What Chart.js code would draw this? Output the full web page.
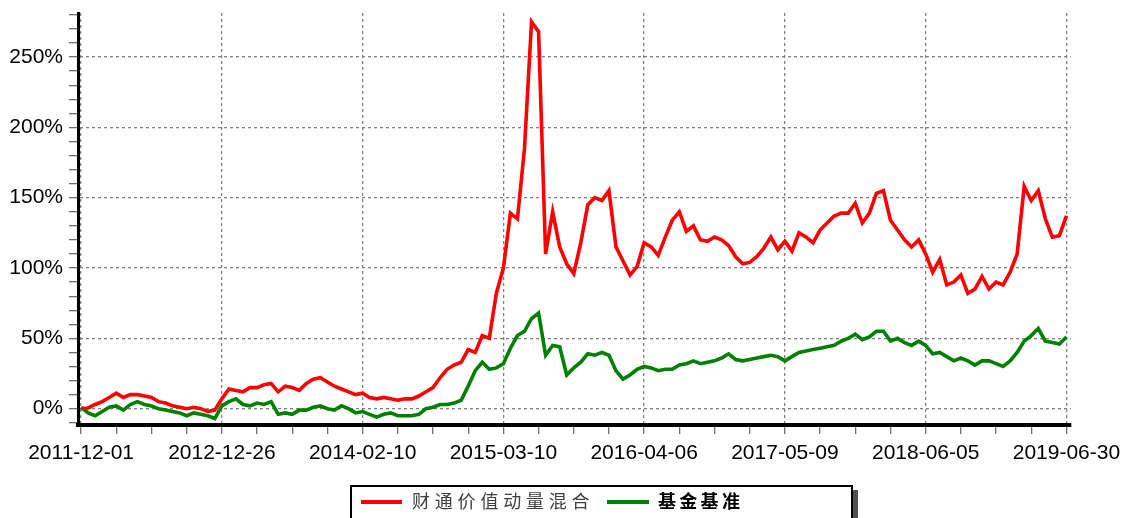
<!DOCTYPE html>
<html>
<head>
    <title>财通价值动量混合</title>
    <script src="https://cdn.jsdelivr.net/npm/chart.js"></script>
    <style>
        body { margin: 0; background-color: #ffffff; }
        #wrap { width: 1122px; height: 518px; }
    </style>
</head>
<body>
    <div id="wrap">
        <canvas id="navChart" width="1122" height="518"></canvas>
    </div>

    <script>
        // tick labels on the date axis (one every 20 samples)
        const dateLabels = ['2011-12-01', '2012-12-26', '2014-02-10', '2015-03-10',
                            '2016-04-06', '2017-05-09', '2018-06-05', '2019-06-30'];
        const seriesNames = ['财通价值动量混合', '基金基准'];

        // cumulative return, %
        const fundValues = [
            0, 0.5, 3, 5, 8, 11, 8, 10, 10, 9, 8, 5, 4, 2, 1, 0, 1, 0, -2, -1, 7,
            14, 13, 12, 15, 15, 17, 18, 12, 16, 15, 13, 18, 21, 22, 19, 16, 14, 12, 10, 11,
            8, 7, 8, 7, 6, 7, 7, 9, 12, 15, 22, 28, 31, 33, 42, 40, 52, 50, 82, 100,
            139, 135, 185, 275, 268, 110, 140, 115, 103, 96, 118, 145, 150, 148, 155, 115, 105, 95, 101, 118,
            115, 109, 122, 134, 140, 126, 130, 120, 119, 122, 120, 116, 108, 103, 104, 108, 114, 122, 113, 119,
            112, 125, 122, 118, 127, 132, 137, 139, 139, 146, 132, 139, 153, 155, 134, 127, 120, 115, 120, 110,
            97, 106, 88, 90, 95, 82, 85, 94, 85, 90, 88, 97, 110, 158, 148, 155, 135, 122, 123, 137
        ];
        const benchValues = [
            1, -3, -5, -2, 1, 2, -1, 3, 5, 3, 2, 0, -1, -2, -3, -5, -3, -4, -5, -7, 2,
            5, 7, 3, 2, 4, 3, 5, -4, -3, -4, -1, -1, 1, 2, 0, -1, 2, 0, -3, -2,
            -4, -6, -4, -3, -5, -5, -5, -4, 0, 1, 3, 3, 4, 6, 16, 27, 33, 28, 29, 32,
            43, 52, 55, 64, 68, 38, 45, 44, 24, 29, 33, 39, 38, 40, 38, 27, 21, 24, 28, 30,
            29, 27, 28, 28, 31, 32, 34, 32, 33, 34, 36, 39, 35, 34, 35, 36, 37, 38, 37, 34,
            37, 40, 41, 42, 43, 44, 45, 48, 50, 53, 49, 51, 55, 55, 48, 50, 47, 45, 48, 45,
            39, 40, 37, 34, 36, 34, 31, 34, 34, 32, 30, 34, 40, 48, 52, 57, 48, 47, 46, 51
        ];

        const perLabel = 20;
        const sampleIdx = fundValues.map((v, i) => i);

        Chart.defaults.font.family = '"Liberation Sans", Arial, sans-serif';
        Chart.defaults.color = '#000';

        // legend drawn as a framed box under the axis
        const boxLegend = {
            id: 'boxLegend',
            afterDraw(chart) {
                const ctx = chart.ctx;
                ctx.save();
                ctx.fillStyle = '#505050';
                ctx.fillRect(853, 490, 5, 30);
                ctx.fillStyle = '#fff';
                ctx.fillRect(351, 486, 501, 40);
                ctx.strokeStyle = '#000';
                ctx.lineWidth = 2;
                ctx.strokeRect(351, 486, 501, 40);

                ctx.lineWidth = 4;
                ctx.strokeStyle = '#ff0000';
                ctx.beginPath(); ctx.moveTo(361, 502); ctx.lineTo(402, 502); ctx.stroke();
                ctx.strokeStyle = '#008000';
                ctx.beginPath(); ctx.moveTo(607, 502); ctx.lineTo(649, 502); ctx.stroke();

                ctx.textBaseline = 'middle';
                ctx.font = '18px "Noto Sans CJK SC"';
                ctx.fillStyle = '#404040';
                [...seriesNames[0]].forEach((c, k) => ctx.fillText(c, 412 + k * 22.8, 501));
                ctx.font = 'bold 18px "Noto Sans CJK SC"';
                ctx.fillStyle = '#000';
                [...seriesNames[1]].forEach((c, k) => ctx.fillText(c, 658 + k * 21.3, 501));
                ctx.restore();
            }
        };

        const ctx = document.getElementById('navChart').getContext('2d');
        const chart = new Chart(ctx, {
            type: 'line',
            data: {
                labels: sampleIdx,
                datasets: [{
                    label: seriesNames[0],
                    data: fundValues,
                    borderColor: '#ff0000',
                    borderWidth: 3.6,
                    pointRadius: 0,
                    tension: 0
                }, {
                    label: seriesNames[1],
                    data: benchValues,
                    borderColor: '#008000',
                    borderWidth: 3.6,
                    pointRadius: 0,
                    tension: 0
                }]
            },
            options: {
                responsive: false,
                animation: false,
                layout: { padding: { top: 13, right: 51, left: 0, bottom: 0 } },
                plugins: {
                    legend: { display: false },
                    tooltip: { enabled: false }
                },
                scales: {
                    x: {
                        type: 'linear',
                        min: -0.44,
                        max: 140.65,
                        afterBuildTicks: (scale) => {
                            const t = [];
                            for (let v = 0; v <= 140; v += 5) t.push({ value: v });
                            scale.ticks = t;
                        },
                        afterFit: (scale) => {
                            scale.height = 93;
                            scale.paddingLeft = 0;
                            scale.paddingRight = 0;
                        },
                        ticks: {
                            autoSkip: false,
                            maxRotation: 0,
                            padding: 7,
                            font: { size: 21 },
                            callback: (v) => (v % perLabel === 0 ? dateLabels[v / perLabel] : '')
                        },
                        grid: {
                            color: (c) => (c.tick && c.tick.value % perLabel === 0 ? '#808080' : 'rgba(0,0,0,0)'),
                            lineWidth: 1.3,
                            tickColor: '#707070',
                            tickLength: 9
                        },
                        border: { color: '#000', width: 4, dash: [3, 3] }
                    },
                    y: {
                        min: -11.6,
                        max: 281.3,
                        afterBuildTicks: (scale) => {
                            const t = [];
                            for (let v = -10; v <= 280; v += 10) t.push({ value: v });
                            scale.ticks = t;
                        },
                        afterFit: (scale) => {
                            scale.width = 78;
                            scale.paddingTop = 0;
                            scale.paddingBottom = 0;
                        },
                        ticks: {
                            autoSkip: false,
                            padding: 6,
                            font: { size: 21 },
                            callback: (v) => (v % 50 === 0 && v >= 0 ? v + '%' : '')
                        },
                        grid: {
                            color: (c) => (c.tick && c.tick.value % 50 === 0 ? '#808080' : 'rgba(0,0,0,0)'),
                            lineWidth: 1.3,
                            tickColor: '#707070',
                            tickLength: 9
                        },
                        border: { color: '#000', width: 3, dash: [3, 3] }
                    }
                }
            },
            plugins: [boxLegend]
        });
    </script>
</body>
</html>
